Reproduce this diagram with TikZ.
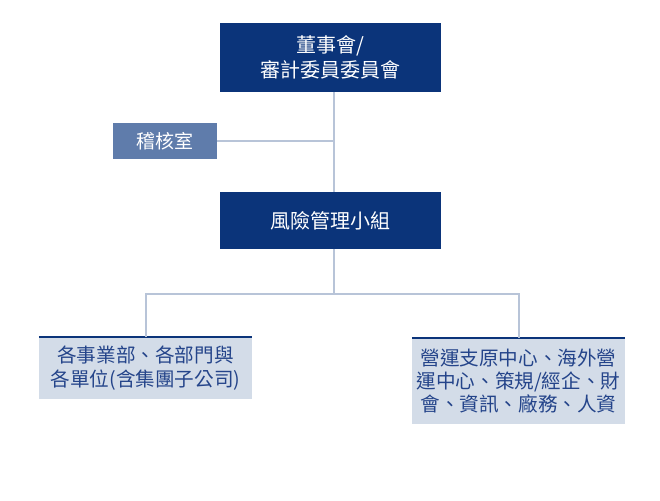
\documentclass[tikz,border=0pt]{standalone}
\usepackage{fontspec}
\setmainfont{Noto Sans CJK TC}
\usetikzlibrary{positioning}
\definecolor{navy}{HTML}{0B347A}
\definecolor{steel}{HTML}{5F7CAB}
\definecolor{pale}{HTML}{D3DCE8}
\definecolor{wire}{HTML}{B8C4D8}
\definecolor{ink}{HTML}{24448A}

\begin{document}
\begin{tikzpicture}[x=1pt,y=-1pt,
    head/.style={fill=navy, text=white, inner sep=0pt, align=center,
                 font=\fontsize{20}{25}\selectfont},
    audit/.style={fill=steel, text=white, inner sep=0pt,
                  font=\fontsize{19}{23}\selectfont},
    unit/.style={fill=pale, text=ink, inner sep=0pt, align=center,
                 font=\fontsize{19.6}{23.3}\selectfont},
    link/.style={draw=wire, line width=2pt}]

  \useasboundingbox (0,0) rectangle (660,500);

  % boxes
  \node [head, minimum width=221pt, minimum height=69pt]
        (board) at (330.5,57.5) {董事會/\\審計委員委員會};
  \node [audit, minimum width=104pt, minimum height=36pt]
        (audit) at (165,141) {稽核室};
  \node [head, minimum width=221pt, minimum height=57pt]
        (risk) at (330.5,220.5) {風險管理小組};
  \node [unit, minimum width=213pt, minimum height=62pt]
        (units) at (145.5,368) {各事業部、各部門與\\各單位(含集團子公司)};
  \node [unit, minimum width=213pt, minimum height=86pt]
        (ops) at (518.5,381) {營運支原中心、海外營\\運中心、策規/經企、財\\會、資訊、廠務、人資};

  % dark top edge of the lower boxes
  \foreach \b in {units,ops}
    \draw [navy, line width=2.5pt] (\b.north west) -- (\b.north east);

  % connectors
  \coordinate (spine) at (334,141);
  \coordinate (fork) at (334,294);
  \draw [link] (board.south -| spine) -- (risk.north -| spine);
  \draw [link] (audit.east) -- (spine);
  \draw [link] (risk.south -| fork) -- (fork);
  \draw [link] (units.north) |- (fork) -| (ops.north);

\end{tikzpicture}
\end{document}
